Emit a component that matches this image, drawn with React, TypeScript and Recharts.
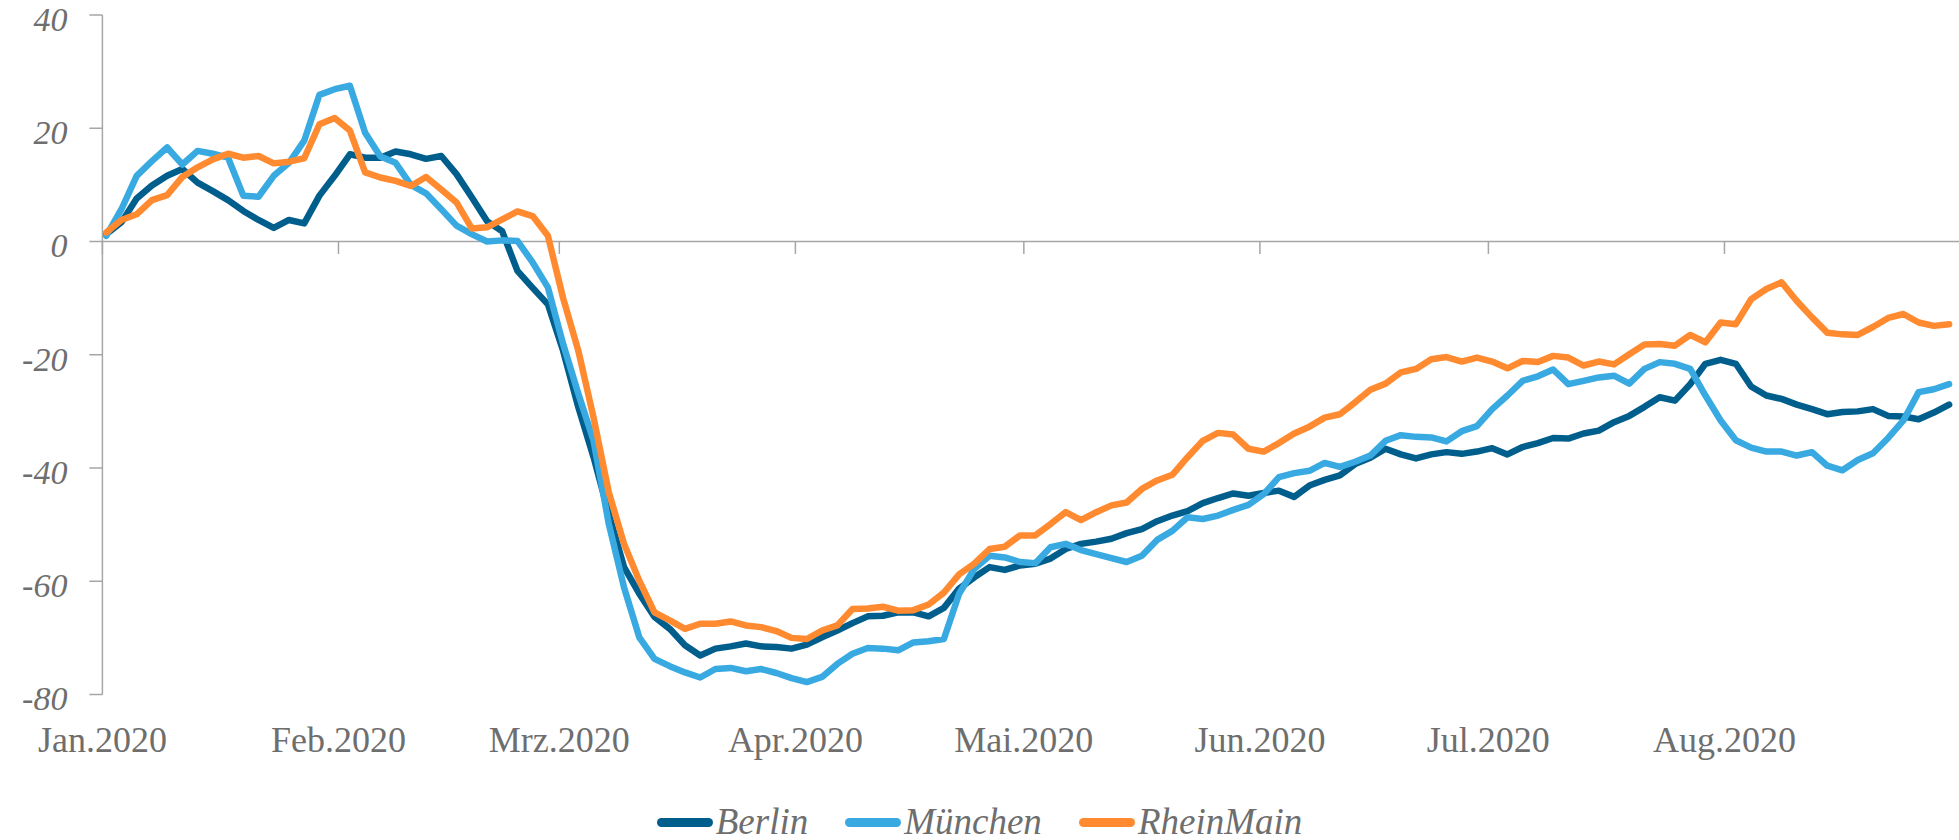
import React from 'react';
import { LineChart, Line, XAxis, YAxis, ReferenceLine, Legend } from 'recharts';

// day index (0 = 1 Jan 2020), sampled every second day
const dayIndex = [
  0, 2, 4, 6, 8, 10, 12, 14, 16, 18, 20, 22, 24, 26, 28, 30, 32, 34, 36, 38,
  40, 42, 44, 46, 48, 50, 52, 54, 56, 58, 60, 62, 64, 66, 68, 70, 72, 74, 76, 78,
  80, 82, 84, 86, 88, 90, 92, 94, 96, 98, 100, 102, 104, 106, 108, 110, 112, 114, 116, 118,
  120, 122, 124, 126, 128, 130, 132, 134, 136, 138, 140, 142, 144, 146, 148, 150, 152, 154, 156, 158,
  160, 162, 164, 166, 168, 170, 172, 174, 176, 178, 180, 182, 184, 186, 188, 190, 192, 194, 196, 198,
  200, 202, 204, 206, 208, 210, 212, 214, 216, 218, 220, 222, 224, 226, 228, 230, 232, 234, 236, 238,
  240, 242,
];

const berlin = [
  1.3, 3.4, 7.6, 9.9, 11.6, 12.8, 10.4, 8.9, 7.3, 5.4, 3.8, 2.4, 3.8, 3.2, 8.1, 11.6, 15.4, 14.8, 14.8, 15.9,
  15.4, 14.6, 15.1, 11.9, 7.8, 3.6, 1.8, -5.2, -8.2, -11.1, -19.3, -29.3, -38.1, -48.1, -57.5, -62.2, -66.3, -68.4, -71.3, -73.1,
  -71.9, -71.5, -71.0, -71.5, -71.6, -71.9, -71.2, -69.9, -68.7, -67.4, -66.2, -66.1, -65.5, -65.5, -66.2, -64.7, -61.3, -59.3, -57.5, -58.0,
  -57.2, -56.9, -56.0, -54.3, -53.4, -53.0, -52.5, -51.5, -50.8, -49.4, -48.4, -47.6, -46.2, -45.3, -44.5, -44.9, -44.4, -44.0, -45.1, -43.1,
  -42.1, -41.3, -39.3, -38.2, -36.6, -37.6, -38.3, -37.6, -37.2, -37.5, -37.1, -36.5, -37.6, -36.3, -35.6, -34.7, -34.8, -33.9, -33.4, -31.9,
  -30.8, -29.2, -27.5, -28.1, -25.2, -21.6, -20.9, -21.6, -25.6, -27.2, -27.8, -28.8, -29.6, -30.5, -30.1, -30.0, -29.6, -30.8, -30.9, -31.4,
  -30.2, -28.8,
];

const muenchen = [
  1.0, 5.7, 11.6, 14.2, 16.6, 13.6, 16.0, 15.5, 14.8, 8.1, 7.9, 11.6, 13.9, 17.8, 25.9, 26.9, 27.5, 19.2, 15.0, 13.9,
  10.0, 8.5, 5.7, 2.8, 1.3, 0.0, 0.2, 0.1, -3.7, -8.1, -18.1, -26.9, -35.2, -49.9, -61.1, -69.9, -73.7, -75.0, -76.1, -77.0,
  -75.5, -75.3, -75.9, -75.5, -76.2, -77.1, -77.8, -76.9, -74.6, -72.8, -71.8, -71.9, -72.2, -70.8, -70.6, -70.2, -62.2, -57.8, -55.5, -55.8,
  -56.6, -56.8, -54.0, -53.4, -54.5, -55.2, -55.9, -56.6, -55.5, -52.7, -51.1, -48.7, -49.0, -48.4, -47.4, -46.5, -44.6, -41.6, -40.9, -40.5,
  -39.1, -39.8, -38.9, -37.8, -35.2, -34.2, -34.5, -34.6, -35.3, -33.5, -32.6, -29.6, -27.2, -24.6, -23.8, -22.6, -25.2, -24.6, -24.0, -23.7,
  -25.1, -22.5, -21.3, -21.6, -22.5, -27.2, -31.6, -35.1, -36.4, -37.1, -37.1, -37.8, -37.2, -39.6, -40.4, -38.6, -37.4, -34.7, -31.6, -26.6,
  -26.1, -25.2,
];

const rheinMain = [
  1.6, 3.8, 4.8, 7.3, 8.2, 11.4, 13.1, 14.5, 15.5, 14.8, 15.1, 13.8, 14.1, 14.7, 20.7, 21.8, 19.6, 12.2, 11.3, 10.7,
  9.8, 11.4, 9.2, 6.9, 2.3, 2.5, 3.9, 5.3, 4.5, 1.0, -10.0, -19.3, -31.1, -44.3, -53.4, -59.9, -65.5, -66.9, -68.4, -67.5,
  -67.5, -67.1, -67.8, -68.1, -68.8, -70.0, -70.2, -68.7, -67.8, -64.9, -64.8, -64.5, -65.2, -65.1, -64.1, -62.0, -58.8, -56.9, -54.3, -53.9,
  -51.9, -51.9, -49.9, -47.8, -49.2, -47.8, -46.6, -46.1, -43.7, -42.2, -41.2, -38.1, -35.2, -33.8, -34.1, -36.6, -37.1, -35.6, -33.9, -32.7,
  -31.1, -30.5, -28.4, -26.2, -25.1, -23.1, -22.5, -20.8, -20.4, -21.2, -20.5, -21.2, -22.4, -21.1, -21.3, -20.2, -20.5, -21.9, -21.2, -21.7,
  -19.9, -18.2, -18.1, -18.4, -16.5, -17.8, -14.3, -14.6, -10.2, -8.4, -7.2, -10.5, -13.4, -16.1, -16.4, -16.5, -15.1, -13.5, -12.8, -14.3,
  -14.9, -14.6,
];

const monthStarts = [0, 31, 60, 91, 121, 152, 182, 213];
const monthLabels = ['Jan.2020', 'Feb.2020', 'Mrz.2020', 'Apr.2020', 'Mai.2020', 'Jun.2020', 'Jul.2020', 'Aug.2020'];
const yTicks = [-80, -60, -40, -20, 0, 20, 40];
const seriesKeys = ['berlin', 'muenchen', 'rheinMain'];
const seriesNames = ['Berlin', 'München', 'RheinMain'];
const seriesColors = ['#005E8D', '#39AAE1', '#FF8A30'];

const data = dayIndex.map((d, i) => ({
  x: d + 0.5,
  berlin: berlin[i],
  muenchen: muenchen[i],
  rheinMain: rheinMain[i],
}));

const AXIS = '#a6a6a6';
const TEXT = '#6e6e6e';
const FONT = '"Liberation Serif", "Times New Roman", serif';

const XTick = (props: any) => {
  const { x, y, payload } = props;
  const idx = monthStarts.indexOf(payload.value);
  return (
    <text x={x} y={y + 57} textAnchor="middle" fill={TEXT} fontSize={36} fontFamily={FONT}>
      {idx >= 0 ? monthLabels[idx] : ''}
    </text>
  );
};

const YTick = (props: any) => {
  const { x, y, payload } = props;
  return (
    <text x={x} y={y + 4} dy="0.35em" textAnchor="end" fill={TEXT} fontSize={34} fontStyle="italic" fontFamily={FONT}>
      {payload.value}
    </text>
  );
};

const renderLegend = () => (
  <div
    style={{
      display: 'flex',
      justifyContent: 'center',
      alignItems: 'center',
      height: 36,
      fontFamily: FONT,
      fontStyle: 'italic',
      fontSize: 37,
      color: TEXT,
    }}
  >
    {seriesNames.map((n, i) => (
      <div key={n} style={{ display: 'flex', alignItems: 'center', marginRight: i < 2 ? 37 : 0 }}>
        <div style={{ width: 56, height: 9, borderRadius: 4.5, background: seriesColors[i], marginRight: 3 }} />
        <span style={{ lineHeight: '36px' }}>{n}</span>
      </div>
    ))}
  </div>
);

export default function App() {
  return (
    <div style={{ position: 'absolute', left: 0, top: 0, width: 1959, height: 840, background: '#fff' }}>
      <LineChart width={1959} height={840} data={data} margin={{ top: 15, right: 0, left: 2, bottom: 0 }}>
        <XAxis
          type="number"
          dataKey="x"
          domain={[0, 243.8]}
          ticks={monthStarts}
          axisLine={false}
          tickLine={false}
          tickSize={0}
          tickMargin={0}
          height={109.5}
          tick={<XTick />}
          interval={0}
        />
        <YAxis
          type="number"
          domain={[-80, 40]}
          ticks={yTicks}
          width={100.4}
          tickSize={13}
          tickMargin={22}
          interval={0}
          axisLine={{ stroke: AXIS, strokeWidth: 1.5 }}
          tickLine={{ stroke: AXIS, strokeWidth: 1.5 }}
          tick={<YTick />}
        />
        <ReferenceLine y={0} stroke={AXIS} strokeWidth={1.5} ifOverflow="extendDomain" />
        {monthStarts.map((m) => (
          <ReferenceLine
            key={m}
            segment={[{ x: m, y: 0 }, { x: m, y: -2.2 }]}
            stroke={AXIS}
            strokeWidth={1.5}
          />
        ))}
        {seriesKeys.map((k, i) => (
          <Line
            key={k}
            type="linear"
            dataKey={k}
            name={seriesNames[i]}
            stroke={seriesColors[i]}
            strokeWidth={6.5}
            strokeLinejoin="round"
            strokeLinecap="round"
            dot={false}
            activeDot={false}
            isAnimationActive={false}
          />
        ))}
        <Legend verticalAlign="bottom" content={renderLegend} wrapperStyle={{ left: 0, width: 1959, bottom: 0, height: 36 }} />
      </LineChart>
    </div>
  );
}
